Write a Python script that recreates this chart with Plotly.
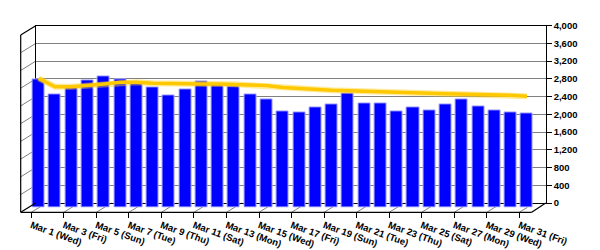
import plotly.graph_objects as go

# ---------------- data ----------------
days = ["Mar 1 (Wed)", "Mar 2 (Thu)", "Mar 3 (Fri)", "Mar 4 (Sat)", "Mar 5 (Sun)",
        "Mar 6 (Mon)", "Mar 7 (Tue)", "Mar 8 (Wed)", "Mar 9 (Thu)", "Mar 10 (Fri)",
        "Mar 11 (Sat)", "Mar 12 (Sun)", "Mar 13 (Mon)", "Mar 14 (Tue)", "Mar 15 (Wed)",
        "Mar 16 (Thu)", "Mar 17 (Fri)", "Mar 18 (Sat)", "Mar 19 (Sun)", "Mar 20 (Mon)",
        "Mar 21 (Tue)", "Mar 22 (Wed)", "Mar 23 (Thu)", "Mar 24 (Fri)", "Mar 25 (Sat)",
        "Mar 26 (Sun)", "Mar 27 (Mon)", "Mar 28 (Tue)", "Mar 29 (Wed)", "Mar 30 (Thu)",
        "Mar 31 (Fri)"]
bar_values = [2904, 2565, 2707, 2865, 2971, 2904, 2797, 2707, 2524, 2678,
              2858, 2791, 2746, 2565, 2452, 2182, 2154, 2272, 2339, 2588,
              2362, 2362, 2182, 2272, 2204, 2339, 2434, 2294, 2186, 2159, 2136]
line_values = [2919, 2730, 2730, 2752, 2791, 2829, 2829, 2806, 2795, 2791,
               2791, 2791, 2786, 2768, 2757, 2712, 2689, 2671, 2649, 2640,
               2626, 2617, 2594, 2581, 2581, 2572, 2565, 2565, 2543, 2536, 2513]
y_ticks = [0, 400, 800, 1200, 1600, 2000, 2400, 2800, 3200, 3600, 4000]
tick_idx = list(range(0, len(days), 2))
tick_text = [days[i] for i in tick_idx]

W, H = 600, 250
def px(x):
    return x / W
def py(y):
    return (H - y) / H

FONT = dict(family="Liberation Sans, Arial, sans-serif", size=9.5, color="#000000")

# geometry of the pseudo-3D box (pixels)
BX0, BX1, BTOP, BBOT = 35.7, 545.7, 25.7, 203.0     # back wall
FX0, FX1, FBOT = 20.7, 531.7, 212.3                 # front edge
DEPTH_Y = FBOT - BBOT                               # vertical depth offset
YMAX = 4000

fig = go.Figure()

# dummy trace so the back-wall subplot exists
fig.add_trace(go.Scatter(x=[], y=[], xaxis="x", yaxis="y", showlegend=False, hoverinfo="skip"))

fig.add_trace(go.Bar(
    x=days, y=bar_values, xaxis="x2", yaxis="y2",
    marker=dict(color="#0000FF", line=dict(color="#A8A8FF", width=1)),
    width=0.74, showlegend=False,
))
fig.add_trace(go.Scatter(
    x=days, y=line_values, xaxis="x2", yaxis="y2", mode="lines",
    line=dict(color="rgba(255,210,40,0.45)", width=6), showlegend=False, hoverinfo="skip",
))
fig.add_trace(go.Scatter(
    x=days, y=line_values, xaxis="x2", yaxis="y2", mode="lines",
    line=dict(color="#FFC800", width=3.5), showlegend=False,
))

shapes = []
black = dict(color="#000000", width=1.2)
gray = dict(color="#808080", width=1)
# left wall grid diagonals
dv = DEPTH_Y / (BBOT - BTOP) * YMAX
for v in y_ticks[1:-1]:
    shapes.append(dict(type="line", xref="paper", yref="y", x0=px(BX0), y0=v,
                       x1=px(FX0), y1=v - dv, line=gray, layer="below"))
# floor stubs at labelled ticks
for i in tick_idx:
    shapes.append(dict(type="line", xref="x3", yref="paper", x0=i, y0=py(FBOT),
                       x1=i + (BX0 - FX0) / 16.27, y1=py(BBOT), line=gray, layer="below"))
# left wall outline
shapes += [
    dict(type="line", xref="paper", yref="paper", x0=px(FX0), y0=py(BTOP + DEPTH_Y),
         x1=px(FX0), y1=py(FBOT), line=black),
    dict(type="line", xref="paper", yref="paper", x0=px(FX0), y0=py(BTOP + DEPTH_Y),
         x1=px(BX0), y1=py(BTOP), line=black),
    dict(type="line", xref="paper", yref="paper", x0=px(FX0), y0=py(FBOT),
         x1=px(BX0), y1=py(BBOT), line=black),
    # floor front edge and right diagonal
    dict(type="line", xref="paper", yref="paper", x0=px(FX0), y0=py(FBOT),
         x1=px(FX1), y1=py(FBOT), line=black),
    dict(type="line", xref="paper", yref="paper", x0=px(FX1), y0=py(FBOT),
         x1=px(BX1), y1=py(BBOT), line=black),
]

bars_bot = 207.7
fig.update_layout(
    width=W, height=H,
    margin=dict(l=0, r=0, t=0, b=0),
    paper_bgcolor="white", plot_bgcolor="rgba(0,0,0,0)",
    font=FONT, showlegend=False, bargap=0,
    shapes=shapes,
    # back wall
    xaxis=dict(domain=[px(BX0), px(BX1)], anchor="y", range=[0, 1], showgrid=False,
               zeroline=False, showticklabels=False, ticks="", showline=True,
               linecolor="#000000", linewidth=1.2, mirror=True, automargin=False),
    yaxis=dict(domain=[py(BBOT), py(BTOP)], anchor="x", side="right", range=[0, YMAX],
               tickvals=y_ticks, tickformat=",d", showgrid=True, gridcolor="#808080",
               gridwidth=1, zeroline=False, showline=True, linecolor="#000000",
               linewidth=1.2, mirror=True, ticks="outside", ticklen=5, tickcolor="#000000",
               tickfont=dict(family=FONT["family"], size=9.5, color="#000000", weight="bold"),
               automargin=False),
    # bars / line plane
    xaxis2=dict(domain=[px(38.7 - 8.14), px(527.0 + 8.14)], anchor="y2", showgrid=False,
                zeroline=False, showticklabels=False, ticks="", showline=False,
                range=[-0.5, len(days) - 0.5], automargin=False),
    yaxis2=dict(domain=[py(bars_bot), py(bars_bot - (BBOT - BTOP))], anchor="x2",
                range=[0, YMAX], showgrid=False, zeroline=False, showticklabels=False,
                ticks="", showline=False, automargin=False),
    # front floor labels
    xaxis3=dict(domain=[px(31.3 - 8.13), px(519.3 + 8.13)], anchor="y3",
                range=[-0.5, len(days) - 0.5], tickvals=tick_idx, ticktext=tick_text,
                tickangle=20, ticks="outside", ticklen=5, tickcolor="#000000",
                ticklabelstandoff=-2,
                showgrid=False, zeroline=False, showline=False,
                tickfont=dict(family=FONT["family"], size=9.5, color="#000000", weight="bold"),
                automargin=False),
    yaxis3=dict(domain=[py(FBOT), py(FBOT) + 0.01], anchor="x3", visible=False,
                range=[0, 1]),
)

fig.write_html("out.html")
